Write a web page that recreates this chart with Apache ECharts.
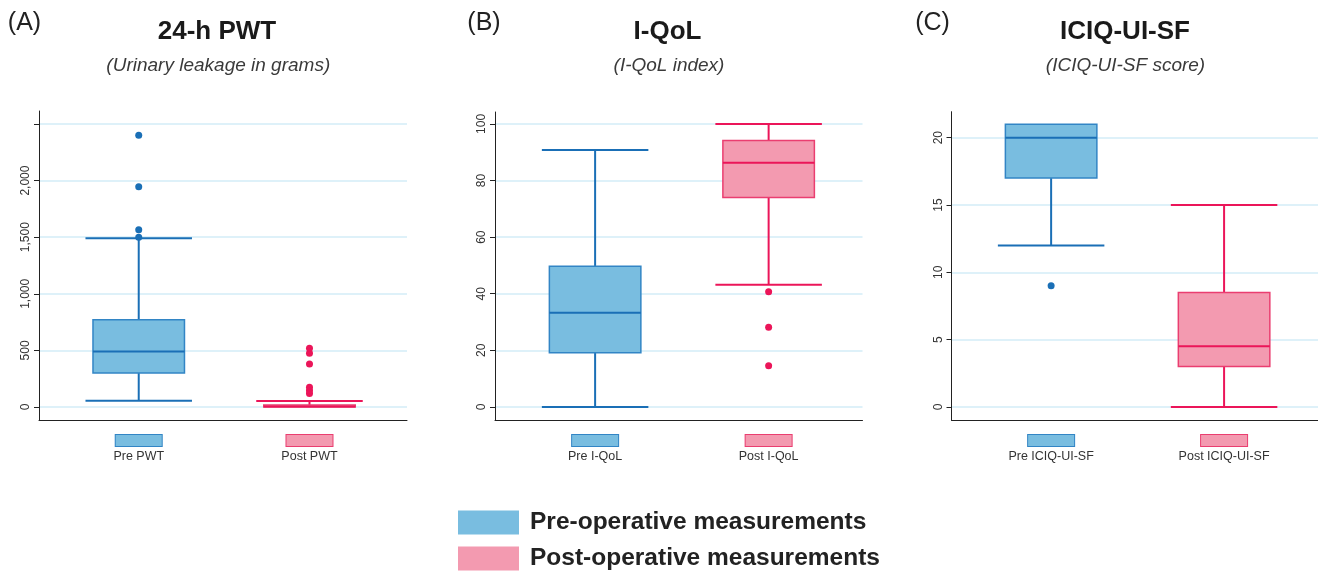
<!DOCTYPE html>
<html><head><meta charset="utf-8">
<script src="https://cdn.jsdelivr.net/npm/echarts@6/dist/echarts.min.js"></script>
<style>html,body{margin:0;padding:0;background:#fff}#c{width:1318px;height:572px}</style>
</head><body><div id="c"></div>
<script>
// ---------- data ----------
const groups = ['Pre-operative measurements', 'Post-operative measurements'];

// box values: [min whisker, Q1, median, Q3, max whisker]
const pwtCategories = ['Pre PWT', 'Post PWT'];
const pwtPre = [55, 300, 490, 770, 1490];
const pwtPost = [0, 0, 5, 18, 53];
const pwtPreOutliers = [1500, 1565, 1945, 2400];
const pwtPostOutliers = [120, 145, 175, 380, 475, 520];
const pwtTicks = [0, 500, 1000, 1500, 2000, 2500];
const pwtLabels = [0, 500, 1000, 1500, 2000];

const qolCategories = ['Pre I-QoL', 'Post I-QoL'];
const qolPre = [0, 19.2, 33.3, 49.7, 90.8];
const qolPost = [43.2, 74, 86.3, 94.1, 100];
const qolPreOutliers = [];
const qolPostOutliers = [14.6, 28.2, 40.7];
const qolTicks = [0, 20, 40, 60, 80, 100];
const qolLabels = [0, 20, 40, 60, 80, 100];

const iciqCategories = ['Pre ICIQ-UI-SF', 'Post ICIQ-UI-SF'];
const iciqPre = [12, 17, 20, 21, 21];
const iciqPost = [0, 3, 4.5, 8.5, 15];
const iciqPreOutliers = [9];
const iciqPostOutliers = [];
const iciqTicks = [0, 5, 10, 15, 20];
const iciqLabels = [0, 5, 10, 15, 20];

const titles = ['24-h PWT', 'I-QoL', 'ICIQ-UI-SF'];
const subtitles = ['(Urinary leakage in grams)', '(I-QoL index)', '(ICIQ-UI-SF score)'];
const letters = ['(A)', '(B)', '(C)'];

// ---------- styles ----------
const FONT = '"Liberation Sans", Helvetica, Arial, sans-serif';
const STROKE = ['#1a6fb6', '#eb1559'];
const FILL = ['#79bde0', '#f39ab0'];
const BORDER = ['#3285c5', '#ea3e70'];
const GRIDC = '#d3edf7';

const panels = [
  {cats: pwtCategories, pre: pwtPre, post: pwtPost, preOut: pwtPreOutliers, postOut: pwtPostOutliers,
   ticks: pwtTicks, labels: pwtLabels, ymin: -115, ymax: 2615, xmin: -0.584, xmax: 1.571,
   grid: {left: 39, top: 111, width: 368, height: 309}},
  {cats: qolCategories, pre: qolPre, post: qolPost, preOut: qolPreOutliers, postOut: qolPostOutliers,
   ticks: qolTicks, labels: qolLabels, ymin: -4.6, ymax: 104.2, xmin: -0.577, xmax: 1.541,
   grid: {left: 495, top: 112, width: 367.5, height: 308}},
  {cats: iciqCategories, pre: iciqPre, post: iciqPost, preOut: iciqPreOutliers, postOut: iciqPostOutliers,
   ticks: iciqTicks, labels: iciqLabels, ymin: -0.97, ymax: 21.93, xmin: -0.576, xmax: 1.543,
   grid: {left: 951.5, top: 111.7, width: 366.5, height: 308.3}}
];

function fmt(v) { return String(v).replace(/\B(?=(\d{3})+(?!\d))/g, ','); }

function boxRender(k) {
  return function (params, api) {
    const x = api.value(0);
    const vals = [1, 2, 3, 4, 5].map(i => api.value(i));
    const p = vals.map(v => api.coord([x, v]));
    const cx = p[0][0];
    const bw = 91.5, cw = 106.5;
    const ls = () => ({stroke: STROKE[k], lineWidth: 2, fill: null});
    const ch = [];
    if (vals[4] > vals[3]) {
      ch.push({type: 'line', shape: {x1: cx, y1: p[3][1], x2: cx, y2: p[4][1]}, style: ls()});
      ch.push({type: 'line', shape: {x1: cx - cw / 2, y1: p[4][1], x2: cx + cw / 2, y2: p[4][1]}, style: ls()});
    }
    if (vals[0] < vals[1]) {
      ch.push({type: 'line', shape: {x1: cx, y1: p[1][1], x2: cx, y2: p[0][1]}, style: ls()});
      ch.push({type: 'line', shape: {x1: cx - cw / 2, y1: p[0][1], x2: cx + cw / 2, y2: p[0][1]}, style: ls()});
    }
    ch.push({type: 'rect', shape: {x: cx - bw / 2, y: p[3][1], width: bw, height: p[1][1] - p[3][1]},
             style: {fill: FILL[k], stroke: BORDER[k], lineWidth: 1.5}});
    ch.push({type: 'line', shape: {x1: cx - bw / 2, y1: p[2][1], x2: cx + bw / 2, y2: p[2][1]}, style: ls()});
    return {type: 'group', children: ch};
  };
}

const grid = [], xAxis = [], yAxis = [], series = [];
panels.forEach((pn, i) => {
  grid.push(Object.assign({containLabel: false}, pn.grid));
  xAxis.push({
    gridIndex: i, type: 'value', min: pn.xmin, max: pn.xmax,
    splitLine: {show: false},
    axisLine: {show: true, onZero: false, lineStyle: {color: '#222', width: 1}},
    axisTick: {show: false},
    axisLabel: {
      customValues: [0, 1], margin: 15,
      formatter: v => (v === 0 ? '{pre| }\n{t|' + pn.cats[0] + '}' : '{post| }\n{t|' + pn.cats[1] + '}'),
      rich: {
        pre: {width: 46, height: 11, backgroundColor: FILL[0], borderColor: BORDER[0], borderWidth: 1},
        post: {width: 46, height: 11, backgroundColor: FILL[1], borderColor: BORDER[1], borderWidth: 1},
        t: {fontSize: 12.5, color: '#333', lineHeight: 21, fontFamily: FONT}
      }
    }
  });
  yAxis.push({
    gridIndex: i, type: 'value', min: pn.ymin, max: pn.ymax,
    splitLine: {show: false},
    axisLine: {show: true, onZero: false, lineStyle: {color: '#222', width: 1}},
    axisTick: {show: true, length: 5, customValues: pn.ticks, lineStyle: {color: '#222'}},
    axisLabel: {customValues: pn.labels, rotate: 90, margin: 7, fontSize: 12, color: '#333',
                fontFamily: FONT, formatter: v => fmt(v)}
  });
  // grid lines drawn via the y scale, behind the boxes
  series.push({
    type: 'line', name: 'grid' + i, xAxisIndex: i, yAxisIndex: i, data: [], silent: true, z: 0,
    markLine: {silent: true, z: 0, symbol: 'none', label: {show: false}, animation: false,
               lineStyle: {color: GRIDC, width: 1.5, type: 'solid'}, emphasis: {disabled: true},
               data: pn.ticks.map(v => ({yAxis: v}))}
  });
  [pn.pre, pn.post].forEach((vals, k) => {
    series.push({
      type: 'custom', name: groups[k], xAxisIndex: i, yAxisIndex: i, z: 3,
      itemStyle: {color: FILL[k]},
      encode: {x: 0, y: [1, 2, 3, 4, 5]},
      data: [[k].concat(vals)],
      renderItem: boxRender(k)
    });
  });
  [pn.preOut, pn.postOut].forEach((vals, k) => {
    series.push({
      type: 'scatter', name: 'out' + i + k, xAxisIndex: i, yAxisIndex: i, z: 4,
      symbol: 'circle', symbolSize: 7, itemStyle: {color: STROKE[k], opacity: 1},
      data: vals.map(v => [k, v])
    });
  });
});

const T = (text, x, y, font, fill) => ({
  type: 'text', x: x, y: y, silent: true,
  style: {text: text, font: font, fill: fill, textAlign: 'center', textVerticalAlign: 'middle'}
});
const titleX = [217, 667.5, 1125];
const subX = [218.3, 669, 1125.5];
const letterX = [24.5, 484, 932.5];
const graphic = [];
for (let i = 0; i < 3; i++) {
  graphic.push(T(letters[i], letterX[i], 23, '25px ' + FONT, '#222'));
  graphic.push(T(titles[i], titleX[i], 32, 'bold 26px ' + FONT, '#1a1a1a'));
  graphic.push(T(subtitles[i], subX[i], 66, 'italic 19px ' + FONT, '#3a3a3a'));
}

const chart = echarts.init(document.getElementById('c'), null, {renderer: 'canvas'});
chart.setOption({
  animation: false,
  backgroundColor: '#fff',
  textStyle: {fontFamily: FONT},
  grid, xAxis, yAxis, series, graphic,
  legend: {
    data: groups.map((n, k) => ({name: n, itemStyle: {color: FILL[k], borderWidth: 0}})),
    orient: 'vertical', left: 458, top: 510, padding: 0,
    itemWidth: 61, itemHeight: 24, itemGap: 11, icon: 'rect', selectedMode: false,
    textStyle: {fontSize: 24.5, fontWeight: 'bold', color: '#222', fontFamily: FONT, lineHeight: 24,
                padding: [0, 0, 0, 6]}
  }
});
</script></body></html>
